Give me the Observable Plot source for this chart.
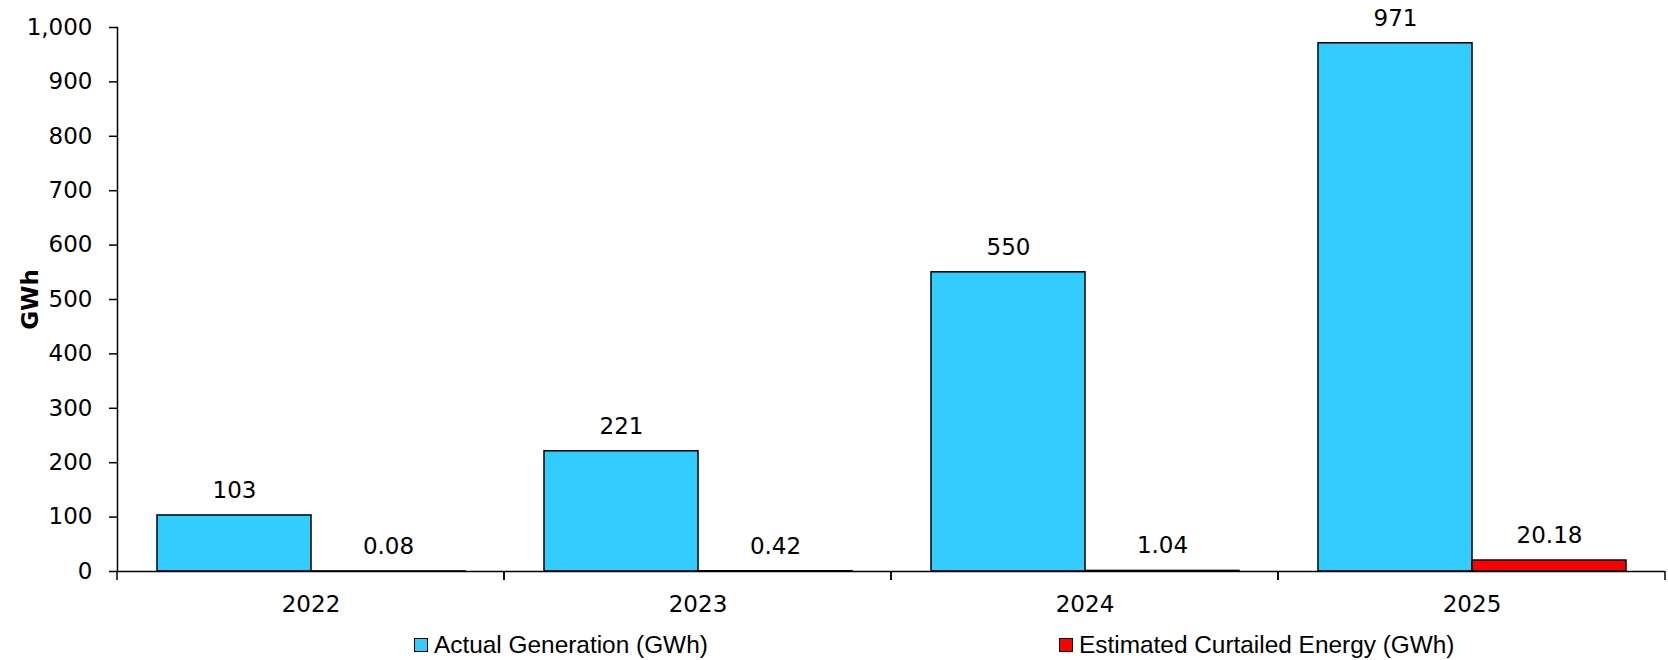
<!DOCTYPE html>
<html>
<head>
<meta charset="utf-8">
<script src="https://cdn.jsdelivr.net/npm/d3@7"></script>
<script src="https://cdn.jsdelivr.net/npm/@observablehq/plot@0.6"></script>
<style>
  html, body { margin: 0; padding: 0; background: #fff; }
  #chart svg { display: block; }
  #chart [aria-label="y-axis label"] { font-weight: bold; }
  .legend { display: flex; align-items: center; height: 46px; padding-left: 414px;
            font-family: "Liberation Sans", sans-serif; font-size: 24.4px; color: #000; }
  .item { display: flex; align-items: center; }
  .item:first-child { width: 645px; }
  .sw { width: 12px; height: 12px; border: 1.5px solid #000; margin-right: 6px; flex: none; }
  .txt { white-space: nowrap; }
</style>
</head>
<body>
<div id="chart"></div>
<div class="legend" id="legend"></div>
<script>
const years = ["2022", "2023", "2024", "2025"];
const actualGeneration = [103, 221, 550, 971];
const curtailedEnergy = [0.08, 0.42, 1.04, 20.18];
const seriesNames = ["Actual Generation (GWh)", "Estimated Curtailed Energy (GWh)"];
const seriesColors = ["#33CCFF", "#FF0000"];
const yTicks = [0, 100, 200, 300, 400, 500, 600, 700, 800, 900, 1000];

const data = years.flatMap((year, i) => [
  {year, series: seriesNames[0], value: actualGeneration[i], label: d3.format(",.0f")(actualGeneration[i])},
  {year, series: seriesNames[1], value: curtailedEnergy[i], label: d3.format(".2f")(curtailedEnergy[i])}
]);

// category boundary ticks below the baseline, drawn at each facet's edges
function boundaryTicks(index, scales, values, dimensions) {
  const g = d3.create("svg:g");
  const y0 = scales.y(0);
  const left = dimensions.marginLeft;
  const right = dimensions.width - dimensions.marginRight;
  for (const x of [left, right]) {
    g.append("line").attr("x1", x).attr("x2", x).attr("y1", y0).attr("y2", y0 + 9)
      .attr("stroke", "#000").attr("stroke-width", 1.5);
  }
  return g.node();
}

const chart = Plot.plot({
  width: 1668,
  height: 622,
  marginTop: 27,
  marginBottom: 51,
  marginLeft: 115,
  marginRight: 2,
  style: {fontFamily: "DejaVu Sans", fontSize: "23px", color: "#000", background: "#fff", overflow: "visible"},
  fx: {domain: years, paddingInner: 0, paddingOuter: 0, label: null},
  x: {domain: seriesNames, paddingInner: 0, paddingOuter: 0.25, axis: null},
  y: {domain: [0, 1000]},
  color: {domain: seriesNames, range: seriesColors},
  marks: [
    Plot.axisY({ticks: yTicks, tickFormat: d3.format(","), tickSize: 8, tickPadding: 17, strokeWidth: 1.5,
                label: "GWh", labelAnchor: "center", labelArrow: "none", labelOffset: 96}),
    Plot.frame({anchor: "left", facetAnchor: "left", strokeWidth: 1.5}),
    Plot.axisFx({anchor: "bottom", tickSize: 0, tickPadding: 24, label: null}),
    Plot.barY(data, {fx: "year", x: "series", y: "value", fill: "series", stroke: "#000", strokeWidth: 1.5}),
    Plot.ruleY([0], {stroke: "#000", strokeWidth: 1.5}),
    boundaryTicks,
    Plot.text(data, {fx: "year", x: "series", y: "value", text: "label", dy: -25, fill: "#000"})
  ]
});
document.getElementById("chart").append(chart);

const legend = document.getElementById("legend");
seriesNames.forEach((name, i) => {
  const item = document.createElement("div");
  item.className = "item";
  const sw = document.createElement("div");
  sw.className = "sw";
  sw.style.background = seriesColors[i];
  const t = document.createElement("span");
  t.className = "txt";
  t.textContent = name;
  item.append(sw, t);
  legend.append(item);
});
</script>
</body>
</html>
